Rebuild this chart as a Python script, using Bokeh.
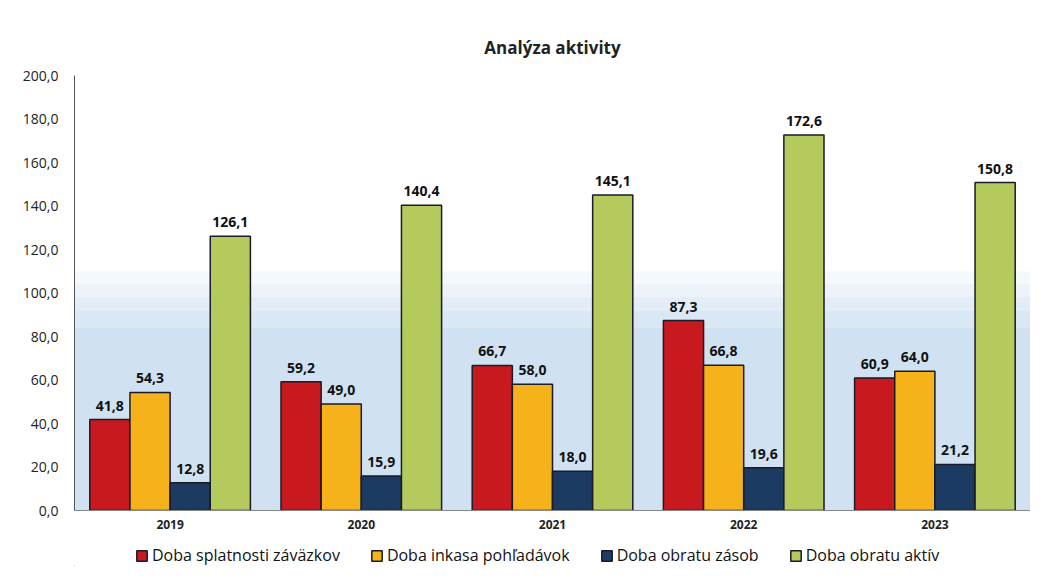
from bokeh.plotting import figure
from bokeh.layouts import column
from bokeh.models import (ColumnDataSource, FactorRange, LabelSet, Legend, LegendItem,
                          CustomJSTickFormatter, FixedTicker, BoxAnnotation, Range1d)
from bokeh.core.properties import value
from bokeh.transform import dodge
from bokeh.embed import file_html
from bokeh.resources import INLINE

years = ["2019", "2020", "2021", "2022", "2023"]
splatnost = [41.8, 59.2, 66.7, 87.3, 60.9]
inkaso = [54.3, 49.0, 58.0, 66.8, 64.0]
zasoby = [12.8, 15.9, 18.0, 19.6, 21.2]
aktiva = [126.1, 140.4, 145.1, 172.6, 150.8]
series_names = ["Doba splatnosti záväzkov", "Doba inkasa pohľadávok",
                "Doba obratu zásob", "Doba obratu aktív"]
y_ticks = [0, 20, 40, 60, 80, 100, 120, 140, 160, 180, 200]

colors = ["#C8191E", "#F5B21A", "#1C3B62", "#B4CA5C"]
FONT = "Open Sans"

fmt = lambda v: f"{v:.1f}".replace(".", ",")
src = ColumnDataSource(dict(
    years=years,
    s0=splatnost, s1=inkaso, s2=zasoby, s3=aktiva,
    l0=[fmt(v) for v in splatnost], l1=[fmt(v) for v in inkaso],
    l2=[fmt(v) for v in zasoby], l3=[fmt(v) for v in aktiva],
))

p = figure(width=1030, height=538, x_range=FactorRange(*years), y_range=(0, 200),
           output_backend="svg", toolbar_location=None,
           min_border_left=74, min_border_right=0, min_border_top=75, min_border_bottom=28)
p.title.text = "Analýza aktivity"
p.title.align = "center"
p.title.text_font = FONT
p.title.text_font_size = "17px"
p.title.text_font_style = "bold"
p.title.text_color = "#222222"
p.title.standoff = 34

# soft blue background in lower half of the plot area
bands = [(0, 84, 0.65), (84, 92, 0.52), (92, 98, 0.4), (98, 104, 0.27), (104, 110, 0.13)]
for b0, b1, a in bands:
    p.add_layout(BoxAnnotation(bottom=b0, top=b1, fill_color="#B7D2EA", fill_alpha=a,
                               line_alpha=0, level="underlay"))

offsets = [-0.315, -0.105, 0.105, 0.315]
for i in range(4):
    p.vbar(x=dodge("years", offsets[i], range=p.x_range), top=f"s{i}", width=0.21,
           source=src, fill_color=colors[i], line_color="#1a1a2a", line_width=1.5)
    p.add_layout(LabelSet(x=dodge("years", offsets[i], range=p.x_range), y=f"s{i}",
                          text=f"l{i}", source=src, text_align="center", y_offset=9,
                          text_font=value(FONT), text_font_size="14px",
                          text_font_style="bold", text_color="#111111"))

p.grid.visible = False
p.outline_line_color = None
p.background_fill_color = "white"

p.yaxis.ticker = FixedTicker(ticks=y_ticks)
p.yaxis.formatter = CustomJSTickFormatter(code="return tick.toFixed(1).replace('.', ',');")
p.yaxis.major_label_text_font = FONT
p.yaxis.major_label_text_font_size = "14px"
p.yaxis.major_label_text_color = "#222222"
p.yaxis.axis_line_color = "#555555"
p.yaxis.major_tick_line_color = None
p.yaxis.minor_tick_line_color = None
p.yaxis.major_label_standoff = 10

p.xaxis.major_label_text_font = FONT
p.xaxis.major_label_text_font_size = "12px"
p.xaxis.major_label_text_font_style = "bold"
p.xaxis.major_label_text_color = "#222222"
p.xaxis.axis_line_color = "#888888"
p.xaxis.major_tick_line_color = None
p.xaxis.major_label_standoff = 3

# legend strip below the chart
lf = figure(width=1030, height=28, x_range=Range1d(0, 1), y_range=Range1d(0, 1),
            output_backend="svg", toolbar_location=None, x_axis_type=None, y_axis_type=None,
            min_border_left=0, min_border_right=0, min_border_top=0, min_border_bottom=0)
lf.grid.visible = False
lf.outline_line_color = None
items = []
for i in range(4):
    # legend swatch renderers, placed far outside the visible range of this strip
    r = lf.vbar(x=[-100], top=[-100], bottom=[-101], width=0.1, fill_color=colors[i],
                line_color="#1a1a2a", line_width=1.5)
    items.append(LegendItem(label=series_names[i], renderers=[r]))
legend = Legend(items=items, orientation="horizontal", location=(61, 0),
                label_text_font=FONT, label_text_font_size="16px", label_text_color="#111111",
                glyph_width=13, glyph_height=13, spacing=30, label_standoff=4,
                border_line_color=None, background_fill_alpha=0, margin=0, padding=2)
lf.add_layout(legend, "center")

open("out.html", "w").write(file_html(column(p, lf, spacing=0), INLINE))
